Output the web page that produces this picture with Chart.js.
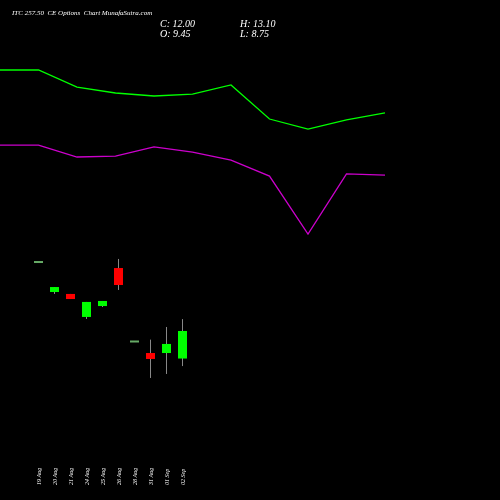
<!DOCTYPE html><html><head><script src="https://cdn.jsdelivr.net/npm/chart.js@4"></script>
<style>body{margin:0;background:#000}#w{position:relative;width:500px;height:500px}
.t{position:absolute;color:#fff;font-family:'Liberation Serif',serif;font-style:italic}</style></head><body>
<div id="w"><canvas id="c" width="500" height="500"></canvas>
<div class="t" style="left:12px;top:9px;font-size:7px">ITC 257.50 &nbsp;CE Options &nbsp;Chart MunafaSutra.com</div>
<div class="t" style="left:160px;top:19px;font-size:10px;line-height:10px">C: 12.00<br>O: 9.45</div>
<div class="t" style="left:240px;top:19px;font-size:10px;line-height:10px">H: 13.10<br>L: 8.75</div></div>
<script>
const dates=["19 Aug","20 Aug","21 Aug","24 Aug","25 Aug","26 Aug","28 Aug","31 Aug","01 Sep","02 Sep"];
const opens=[18.48,15.61,15.43,13.30,14.31,17.83,11.12,9.96,9.96,9.45];
const closes=[18.48,16.07,14.96,14.69,14.78,16.26,11.12,9.41,10.80,12.00];
const highs=[18.48,16.07,15.43,14.69,14.78,18.67,11.12,11.20,12.37,13.10];
const lows=[18.48,15.43,14.96,13.11,14.22,15.80,11.12,7.65,8.02,8.75];
const greenLine=[36.17,36.17,34.59,34.04,33.76,33.94,34.78,31.63,30.70,31.54,32.19];
const magentaLine=[29.22,29.22,28.11,28.20,29.04,28.57,27.83,26.35,20.98,26.54,26.44];
const candlePlugin={id:'candles',afterDatasetsDraw(ch){
 const ctx=ch.ctx,xs=ch.scales.xc,y=ch.scales.y;
 dates.forEach((d,i)=>{
  const x=xs.getPixelForValue(i);
  const o=opens[i],c=closes[i];
  const col=c>o?'#00ff00':(c<o?'#ff0000':'#66aa66');
  ctx.strokeStyle='#888';ctx.lineWidth=1;
  ctx.beginPath();ctx.moveTo(x+0.5,y.getPixelForValue(highs[i]));ctx.lineTo(x+0.5,y.getPixelForValue(lows[i]));ctx.stroke();
  const t=y.getPixelForValue(Math.max(o,c)),b=y.getPixelForValue(Math.min(o,c));
  ctx.fillStyle=col;ctx.fillRect(x-4,t,9,Math.max(b-t,2));
  ctx.save();ctx.translate(x+3,485);ctx.rotate(-Math.PI/2);
  ctx.fillStyle='#fff';ctx.font='italic 6px "Liberation Serif"';ctx.fillText(d,0,0);ctx.restore();
 });}};
new Chart(document.getElementById('c'),{type:'line',
 data:{datasets:[
  {data:greenLine.map((v,i)=>({x:i,y:v})),borderColor:'#00ff00',borderWidth:1.3,pointRadius:0,tension:0},
  {data:magentaLine.map((v,i)=>({x:i,y:v})),borderColor:'#cc00cc',borderWidth:1.3,pointRadius:0,tension:0}]},
 options:{responsive:false,animation:false,layout:{padding:0},
  plugins:{legend:{display:false},tooltip:{enabled:false}},
  scales:{x:{type:'linear',display:false,min:0,max:12.987},
   xc:{type:'linear',display:false,min:-2.375,max:28.875},
   y:{display:false,min:-3.65,max:42.65}}},
 plugins:[candlePlugin]});
</script></body></html>
